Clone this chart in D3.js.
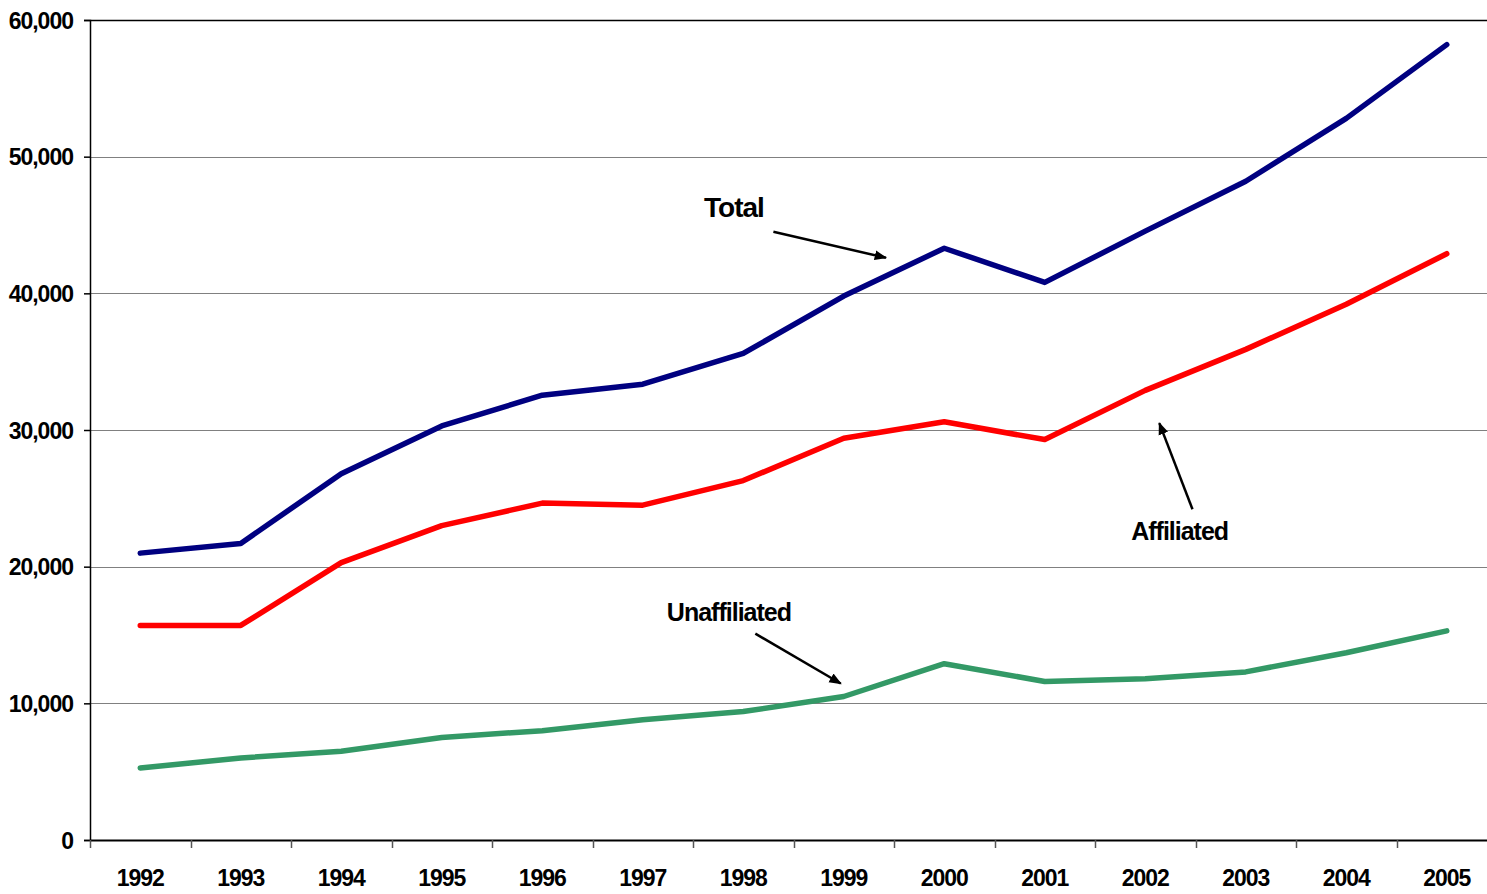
<!DOCTYPE html>
<html>
<head>
<meta charset="utf-8">
<script src="https://cdn.jsdelivr.net/npm/d3@7/dist/d3.min.js"></script>
<style>
	html, body { margin: 0; padding: 0; background: #fff; }
	svg { display: block; }
	text { font-family: "Liberation Sans Narrow", "Arial Narrow", "Liberation Sans", sans-serif; font-weight: bold; fill: #000; letter-spacing: -1px; }
</style>
</head>
<body>
<svg id="chart" width="1487" height="894"></svg>
<script>

var years = ['1992', '1993', '1994', '1995', '1996', '1997', '1998', '1999', '2000', '2001', '2002', '2003', '2004', '2005'];
var total = [20990, 21700, 26800, 30300, 32550, 33350, 35600, 39800, 43300, 40800, 44550, 48200, 52800, 58200];
var affiliated = [15700, 15700, 20300, 23000, 24650, 24500, 26300, 29400, 30600, 29300, 32900, 35900, 39200, 42900];
var unaffiliated = [5270, 6000, 6500, 7500, 8000, 8800, 9400, 10500, 12900, 11600, 11800, 12300, 13700, 15300];
var yTicks = [0, 10000, 20000, 30000, 40000, 50000, 60000];

// label, text anchor (year index, value), arrow from / to (year index, value)
var notes = [
	{ text: 'Total', size: 28, at: [5.61, 45600], from: [6.3, 44500], to: [7.42, 42600] },
	{ text: 'Affiliated', size: 25, at: [9.86, 21950], from: [10.47, 24200], to: [10.14, 30500] },
	{ text: 'Unaffiliated', size: 25, at: [5.24, 16000], from: [6.12, 15100], to: [6.97, 11450] }
];

var svg = d3.select('#chart');
var left = 90, plotTop = 20, bottom = 840;
var band = 100.5;

var x = d3.scaleBand().domain(years).range([left, left + band * years.length]);
var xi = d3.scaleLinear().domain([0, 1]).range([x(years[0]) + band / 2, x(years[1]) + band / 2]);
var y = d3.scaleLinear().domain([0, 60000]).range([bottom, plotTop]);

svg.append('defs').append('marker')
	.attr('id', 'arrow').attr('viewBox', '0 0 10 10').attr('refX', 9).attr('refY', 5)
	.attr('markerWidth', 5).attr('markerHeight', 5).attr('orient', 'auto')
	.append('path').attr('d', 'M0,1 L10,5 L0,9 z').attr('fill', '#000');

// grid
svg.append('g').selectAll('line').data(yTicks.filter(function(d) { return d > 0; }))
	.join('line')
	.attr('x1', left).attr('x2', 1487)
	.attr('y1', function(d) { return Math.round(y(d)) + 0.5; })
	.attr('y2', function(d) { return Math.round(y(d)) + 0.5; })
	.attr('stroke', function(d) { return d === 60000 ? '#000' : '#808080'; })
	.attr('stroke-width', function(d) { return d === 60000 ? 1.5 : 1; });

// y axis
var ya = svg.append('g').attr('transform', 'translate(' + left + ',0)')
	.call(d3.axisLeft(y).tickValues(yTicks).tickSize(6).tickPadding(11).tickFormat(d3.format(',')));
ya.select('.domain').attr('stroke', '#000').attr('stroke-width', 1.5);
ya.selectAll('.tick line').attr('stroke', '#000').attr('stroke-width', 1.5);
ya.selectAll('text').attr('font-size', 23).attr('font-family', null).attr('dy', '0.36em');

// x axis
var xa = svg.append('g').attr('transform', 'translate(0,' + bottom + ')')
	.call(d3.axisBottom(x).tickSize(0).tickPadding(30));
xa.select('.domain').attr('stroke', '#000').attr('stroke-width', 2);
xa.selectAll('text').attr('font-size', 23).attr('font-family', null);
xa.selectAll('.sep').data(years).join('line').attr('class', 'sep')
	.attr('x1', function(d) { return Math.round(x(d)) + 0.5; })
	.attr('x2', function(d) { return Math.round(x(d)) + 0.5; })
	.attr('y1', 0).attr('y2', 8).attr('stroke', '#555').attr('stroke-width', 1.5);

// lines
var line = d3.line()
	.x(function(d, i) { return x(years[i]) + band / 2; })
	.y(function(d) { return y(d); });

[[total, '#000080'], [affiliated, '#ff0000'], [unaffiliated, '#339966']].forEach(function(s) {
	svg.append('path').datum(s[0]).attr('d', line)
		.attr('fill', 'none').attr('stroke', s[1]).attr('stroke-width', 5.5)
		.attr('stroke-linejoin', 'round').attr('stroke-linecap', 'round');
});

// annotations
notes.forEach(function(n) {
	svg.append('text').attr('x', xi(n.at[0])).attr('y', y(n.at[1]))
		.attr('font-size', n.size).text(n.text);
	svg.append('line')
		.attr('x1', xi(n.from[0])).attr('y1', y(n.from[1]))
		.attr('x2', xi(n.to[0])).attr('y2', y(n.to[1]))
		.attr('stroke', '#000').attr('stroke-width', 2.5).attr('marker-end', 'url(#arrow)');
});

</script>
</body>
</html>
